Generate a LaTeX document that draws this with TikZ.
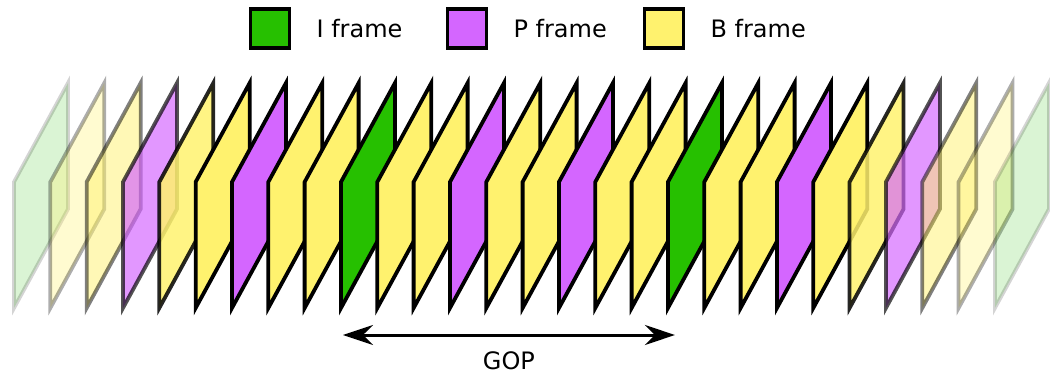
\documentclass[tikz,border=0pt]{standalone}
\usepackage{fontspec}
\setmainfont{DejaVu Sans}
\usepackage{tikz}
\usetikzlibrary{arrows.meta,positioning}
\definecolor{iframe}{RGB}{38,192,0}
\definecolor{pframe}{RGB}{212,102,255}
\definecolor{bframe}{RGB}{255,242,110}
\tikzset{
  frm/.style={draw=black, line width=3.8pt},
  legbox/.style={draw=black, line width=3.8pt, minimum size=39pt, inner sep=0pt},
  legtext/.style={inner sep=0pt, font=\fontsize{24}{28}\selectfont},
  gop/.style={{Stealth[length=30pt,width=20pt,inset=10pt]}-{Stealth[length=30pt,width=20pt,inset=10pt]}, line width=3pt},
}
\begin{document}
\begin{tikzpicture}[x=1pt, y=-1pt]
  \useasboundingbox (0,0) rectangle (1050,377);
  % legend
  \node[legbox, fill=iframe] (li) at (270,28.5) {};
  \node[legtext, right=25pt of li] (lit) {I frame};
  \node[legbox, fill=pframe] (lp) at (467,28.5) {};
  \node[legtext, right=25pt of lp] (lpt) {P frame};
  \node[legbox, fill=bframe] (lb) at (664,28.5) {};
  \node[legtext, right=25pt of lb] (lbt) {B frame};
  % frames, faded at both ends
  \foreach \t [count=\i from 0] in {i,b,b,p,b,b,p,b,b,i,b,b,p,b,b,p,b,b,i,b,b,p,b,b,p,b,b,i} {
    \pgfmathtruncatemacro\d{min(\i,27-\i,5)}
    \pgfmathsetmacro\op{{0.17,0.32,0.5,0.68,0.85,1}[\d]}
    \coordinate (fr\i) at (14+36.33*\i,308);
    \draw[frm, fill=\t frame, opacity=\op] (fr\i) -- ++(0,-126) -- ++(54,-99) -- ++(0,126) -- cycle;
  }
  % group of pictures
  \coordinate (gopL) at ([shift={(2pt,-27pt)}]fr9);
  \coordinate (gopR) at ([shift={(7pt,-27pt)}]fr18);
  \draw[gop] (gopL) -- (gopR) node[midway, below=15pt, legtext] (gopt) {GOP};
\end{tikzpicture}
\end{document}
